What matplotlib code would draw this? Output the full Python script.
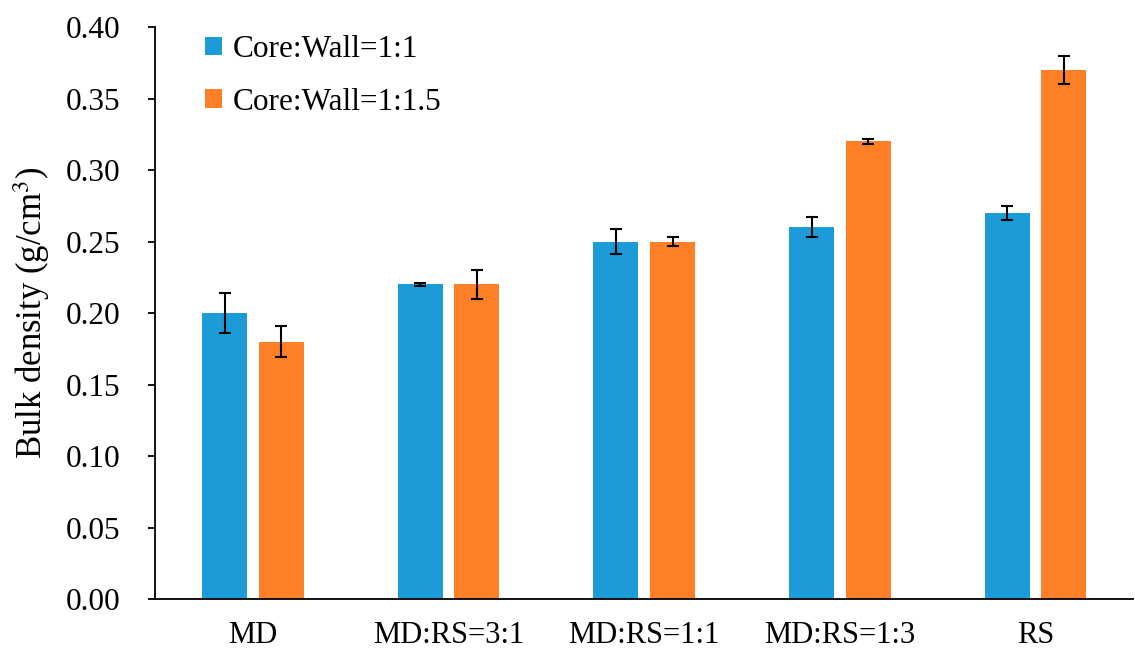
import numpy as np
import matplotlib.pyplot as plt

categories = ['MD', 'MD:RS=3:1', 'MD:RS=1:1', 'MD:RS=1:3', 'RS']
wall_1_1 = [0.20, 0.22, 0.25, 0.26, 0.27]
wall_1_1_err = [0.014, 0.001, 0.009, 0.007, 0.005]
wall_1_15 = [0.18, 0.22, 0.25, 0.32, 0.37]
wall_1_15_err = [0.011, 0.010, 0.003, 0.002, 0.010]

plt.rcParams['font.family'] = ['Liberation Serif', 'DejaVu Serif']
plt.rcParams['mathtext.fontset'] = 'stix'

fig = plt.figure(figsize=(11.35, 6.48), dpi=100)
ax = fig.add_axes([0.1366, 0.0756, 0.862, 0.8827])

x = np.arange(len(categories))
w = 0.23
off = 0.145
err_kw = dict(ecolor='black', elinewidth=1.5, capsize=4.3, capthick=1.5)
ax.bar(x - off, wall_1_1, w, yerr=wall_1_1_err, color='#1B9BD7',
       label='Core:Wall=1:1', error_kw=err_kw)
ax.bar(x + off, wall_1_15, w, yerr=wall_1_15_err, color='#FF7F27',
       label='Core:Wall=1:1.5', error_kw=err_kw)

ax.set_xlim(-0.5, len(categories) - 0.5)
ax.set_ylim(0, 0.40)
ax.set_yticks(np.arange(0, 0.401, 0.05))
ax.set_yticklabels([f'{v:.2f}' for v in np.arange(0, 0.401, 0.05)])
ax.set_xticks(x)
ax.set_xticklabels(categories)
ax.tick_params(axis='y', labelsize=22.5, length=5, width=1.3, direction='out', pad=20)
ax.tick_params(axis='x', labelsize=22, length=0, pad=16)
ax.spines['top'].set_visible(False)
ax.spines['right'].set_visible(False)
for s in ['left', 'bottom']:
    ax.spines[s].set_linewidth(1.3)
ax.set_ylabel('Bulk density (g/cm$^3$)', fontsize=25, labelpad=10)

ax.legend(loc='upper left', bbox_to_anchor=(0.022, 1.035), frameon=False,
          fontsize=22.5, handlelength=0.55, handleheight=0.55, handletextpad=0.35,
          labelspacing=0.75)

plt.savefig('out.png', dpi=100)
